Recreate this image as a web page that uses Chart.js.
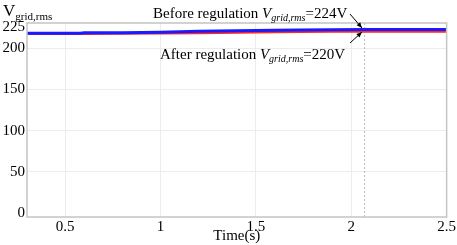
<!DOCTYPE html>
<html>
<head>
<meta charset="utf-8">
<script src="https://cdn.jsdelivr.net/npm/chart.js@4.4.0/dist/chart.umd.min.js"></script>
<style>
  html, body { margin: 0; padding: 0; background: #fff; }
  #wrap { width: 457px; height: 245px; }
</style>
</head>
<body>
<div id="wrap"><canvas id="vgrid"></canvas></div>
<script>
// valeurs
const time = [0.3, 0.5, 0.58, 0.6, 0.8, 1.0, 1.2, 1.4, 1.6, 1.73, 1.9, 2.07, 2.3, 2.5];
const before = [217.8, 217.8, 217.9, 218.4, 218.6, 219.2, 220.4, 221.0, 221.5, 221.8, 222.1, 222.4, 222.5, 222.5];
const after = [217.2, 217.2, 217.3, 217.4, 217.6, 217.9, 218.3, 218.8, 219.3, 219.6, 219.9, 220.0, 220.0, 220.0];
const xTicks = [0.5, 1, 1.5, 2, 2.5];
const yTicks = [0, 50, 100, 150, 200, 225];
const markerTime = 2.07;

const serif = "'Liberation Serif', 'DejaVu Serif', serif";

function pts(ys) {
  return time.map((t, i) => ({ x: t, y: ys[i] }));
}

// cadre, ligne pointillée et annotations
const extras = {
  id: 'extras',
  beforeDatasetsDraw(chart) {
    const { ctx, chartArea: a, scales } = chart;
    const xm = scales.x.getPixelForValue(markerTime);
    ctx.save();
    ctx.strokeStyle = '#b8b8b8';
    ctx.lineWidth = 1;
    ctx.setLineDash([2, 2]);
    ctx.beginPath();
    ctx.moveTo(xm, a.top);
    ctx.lineTo(xm, a.bottom);
    ctx.stroke();
    ctx.restore();
  },
  afterDraw(chart) {
    const { ctx, chartArea: a } = chart;
    ctx.save();
    ctx.strokeStyle = '#c4c4c4';
    ctx.lineWidth = 1.5;
    ctx.strokeRect(a.left, a.top, a.right - a.left, a.bottom - a.top);

    ctx.fillStyle = '#000';
    ctx.textBaseline = 'alphabetic';
    // titre de l'axe y
    ctx.font = '17px ' + serif;
    ctx.fillText('V', 3, 16);
    let w = ctx.measureText('V').width;
    ctx.font = '11px ' + serif;
    ctx.fillText('grid,rms', 3 + w, 20);

    function label(x, y, pre, val) {
      ctx.font = '15px ' + serif;
      ctx.fillText(pre, x, y);
      x += ctx.measureText(pre).width;
      ctx.font = 'italic 15px ' + serif;
      ctx.fillText('V', x, y);
      x += ctx.measureText('V').width;
      ctx.font = 'italic 10px ' + serif;
      ctx.fillText('grid,rms', x, y + 3);
      x += ctx.measureText('grid,rms').width;
      ctx.font = '15px ' + serif;
      ctx.fillText('=' + val + 'V', x, y);
    }
    label(153, 18, 'Before regulation ', 224);
    label(160, 59, 'After regulation ', 220);

    function arrow(x1, y1, x2, y2) {
      ctx.strokeStyle = '#000';
      ctx.lineWidth = 1;
      ctx.beginPath();
      ctx.moveTo(x1, y1);
      ctx.lineTo(x2, y2);
      ctx.stroke();
      const ang = Math.atan2(y2 - y1, x2 - x1);
      ctx.beginPath();
      ctx.moveTo(x2, y2);
      ctx.lineTo(x2 - 6 * Math.cos(ang - 0.4), y2 - 6 * Math.sin(ang - 0.4));
      ctx.lineTo(x2 - 6 * Math.cos(ang + 0.4), y2 - 6 * Math.sin(ang + 0.4));
      ctx.closePath();
      ctx.fill();
    }
    arrow(350, 14, 362, 28);
    arrow(350, 43, 362, 32);
    ctx.restore();
  }
};

new Chart(document.getElementById('vgrid'), {
  type: 'line',
  data: {
    datasets: [{
      label: 'Before regulation',
      data: pts(before),
      borderColor: '#1a1aff',
      borderWidth: 3,
      pointRadius: 0,
      tension: 0,
      order: 1
    }, {
      label: 'After regulation',
      data: pts(after),
      borderColor: '#ff2626',
      borderWidth: 2.5,
      pointRadius: 0,
      tension: 0,
      order: 2
    }]
  },
  options: {
    responsive: true,
    maintainAspectRatio: false,
    animation: false,
    layout: { padding: { left: 0, right: 9, top: 23, bottom: 0 } },
    plugins: { legend: { display: false }, tooltip: { enabled: false } },
    scales: {
      x: {
        type: 'linear',
        min: 0.3,
        max: 2.5,
        afterBuildTicks: s => { s.ticks = xTicks.map(v => ({ value: v })); },
        afterFit: s => { s.height = 28; },
        border: { display: false },
        grid: {
          drawTicks: false,
          color: c => (c.tick && c.tick.value === 2.5) ? 'rgba(0,0,0,0)' : '#ececec',
          lineWidth: 1
        },
        ticks: {
          color: '#000',
          padding: 1,
          maxRotation: 0,
          font: { family: serif, size: 15 },
          callback: v => String(v)
        },
        title: {
          display: true,
          text: 'Time(s)',
          color: '#000',
          font: { family: serif, size: 15 },
          padding: { top: 0, bottom: 0 }
        }
      },
      y: {
        min: -4.5,
        max: 230.3,
        afterBuildTicks: s => { s.ticks = yTicks.map(v => ({ value: v })); },
        afterFit: s => { s.width = 27; },
        border: { display: false },
        grid: {
          drawTicks: false,
          color: c => (c.tick && (c.tick.value === 0 || c.tick.value === 225)) ? 'rgba(0,0,0,0)' : '#ececec',
          lineWidth: 1
        },
        ticks: {
          color: '#000',
          padding: 2,
          font: { family: serif, size: 15 },
          callback: v => String(v)
        }
      }
    }
  },
  plugins: [extras]
});
</script>
</body>
</html>
